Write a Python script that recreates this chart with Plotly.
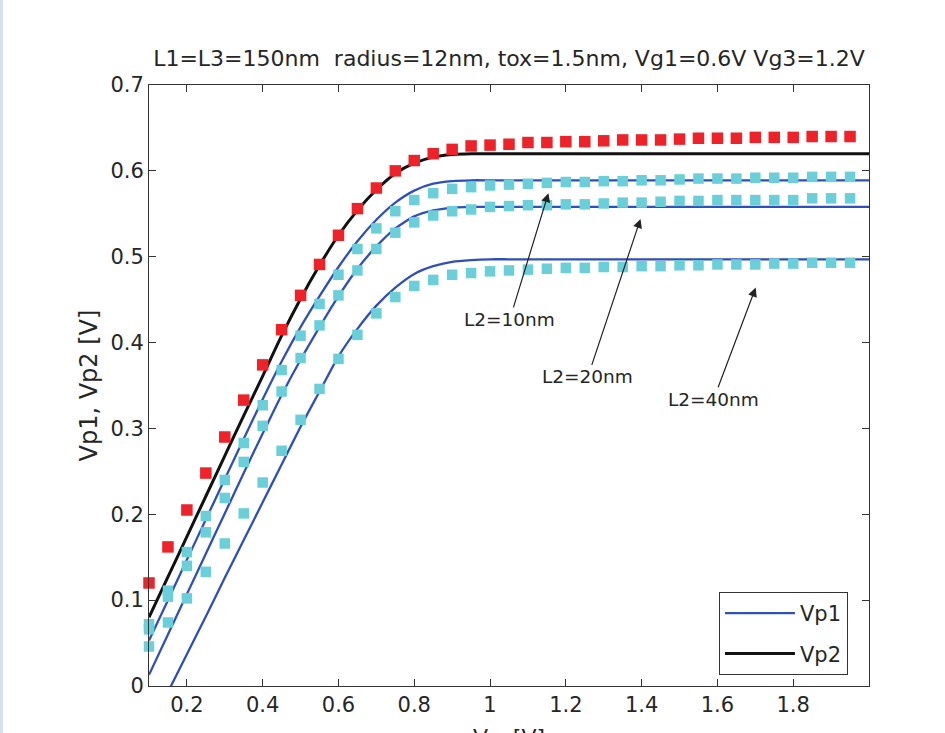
import plotly.graph_objects as go

# ---------------- data ----------------
x_line = [0.10, 0.15, 0.20, 0.25, 0.30, 0.35, 0.40, 0.45, 0.50, 0.55, 0.60, 0.65, 0.70,
          0.75, 0.80, 0.85, 0.90, 0.95, 1.00, 1.05, 1.10, 1.15, 1.20, 1.25, 1.30, 1.35,
          1.40, 1.45, 1.50, 1.55, 1.60, 1.65, 1.70, 1.75, 1.80, 1.85, 1.90, 1.95, 2.00]

vp2_line = [0.080, 0.127, 0.174, 0.221, 0.268, 0.315, 0.361, 0.408, 0.451, 0.490, 0.525,
            0.554, 0.578, 0.597, 0.609, 0.616, 0.619, 0.620, 0.620, 0.620, 0.620, 0.620,
            0.620, 0.620, 0.620, 0.620, 0.620, 0.620, 0.620, 0.620, 0.620, 0.620, 0.620,
            0.620, 0.620, 0.620, 0.620, 0.620, 0.620]

vp1_l10_line = [0.053, 0.100, 0.147, 0.194, 0.241, 0.288, 0.334, 0.378, 0.418, 0.454, 0.488,
                0.518, 0.543, 0.563, 0.577, 0.585, 0.588, 0.589, 0.589, 0.589, 0.589, 0.589,
                0.589, 0.589, 0.589, 0.589, 0.589, 0.589, 0.589, 0.589, 0.589, 0.589, 0.589,
                0.589, 0.589, 0.589, 0.589, 0.589, 0.589]

vp1_l20_line = [0.013, 0.060, 0.107, 0.154, 0.201, 0.248, 0.294, 0.339, 0.380, 0.418, 0.454,
                0.486, 0.512, 0.533, 0.547, 0.554, 0.557, 0.558, 0.558, 0.558, 0.558, 0.558,
                0.558, 0.558, 0.558, 0.558, 0.558, 0.558, 0.558, 0.558, 0.558, 0.558, 0.558,
                0.558, 0.558, 0.558, 0.558, 0.558, 0.558]

x_line_l40 = x_line[1:]
vp1_l40_line = [-0.007, 0.037, 0.081, 0.126, 0.170, 0.214, 0.258, 0.302, 0.343, 0.384,
                0.416, 0.443, 0.464, 0.480, 0.489, 0.494, 0.496, 0.497, 0.497, 0.497, 0.497,
                0.497, 0.497, 0.497, 0.497, 0.497, 0.497, 0.497, 0.497, 0.497, 0.497, 0.497,
                0.497, 0.497, 0.497, 0.497, 0.497, 0.497]

x_pts = x_line[:-1]

vp2_pts = [0.120, 0.162, 0.205, 0.248, 0.290, 0.333, 0.374, 0.415, 0.455, 0.491, 0.525,
           0.556, 0.580, 0.600, 0.612, 0.620, 0.625, 0.629, 0.630, 0.631, 0.633, 0.633,
           0.634, 0.634, 0.635, 0.636, 0.636, 0.636, 0.637, 0.638, 0.638, 0.638, 0.639,
           0.639, 0.639, 0.640, 0.640, 0.640]

vp1_l10_pts = [0.072, 0.111, 0.156, 0.198, 0.240, 0.283, 0.327, 0.368, 0.408, 0.445, 0.479,
               0.509, 0.533, 0.553, 0.566, 0.574, 0.579, 0.581, 0.583, 0.584, 0.585, 0.586,
               0.587, 0.587, 0.588, 0.588, 0.589, 0.589, 0.590, 0.591, 0.591, 0.591, 0.592,
               0.592, 0.592, 0.593, 0.593, 0.593]

vp1_l20_pts = [0.066, 0.104, 0.140, 0.179, 0.219, 0.261, 0.303, 0.343, 0.382, 0.420, 0.455,
               0.484, 0.509, 0.528, 0.540, 0.548, 0.553, 0.555, 0.558, 0.559, 0.560, 0.560,
               0.561, 0.561, 0.562, 0.563, 0.563, 0.564, 0.565, 0.565, 0.566, 0.566, 0.566,
               0.566, 0.566, 0.568, 0.568, 0.568]

vp1_l40_pts = [0.046, 0.074, 0.102, 0.133, 0.166, 0.201, 0.237, 0.274, 0.310, 0.346, 0.381,
               0.409, 0.434, 0.453, 0.466, 0.473, 0.479, 0.481, 0.483, 0.484, 0.485, 0.486,
               0.487, 0.487, 0.488, 0.488, 0.489, 0.489, 0.490, 0.490, 0.491, 0.491, 0.491,
               0.492, 0.492, 0.493, 0.493, 0.493]

x_ticks = [0.2, 0.4, 0.6, 0.8, 1.0, 1.2, 1.4, 1.6, 1.8]
x_ticktext = ["0.2", "0.4", "0.6", "0.8", "1", "1.2", "1.4", "1.6", "1.8"]
y_ticks = [0, 0.1, 0.2, 0.3, 0.4, 0.5, 0.6, 0.7]
y_ticktext = ["0", "0.1", "0.2", "0.3", "0.4", "0.5", "0.6", "0.7"]

labels = ["L2=10nm", "L2=20nm", "L2=40nm"]
label_tip_x = [1.154, 1.397, 1.701]
label_tip_y = [0.574, 0.544, 0.464]
label_txt_x = [1.052, 1.258, 1.590]
label_txt_y = [0.427, 0.360, 0.334]

title_text = "L1=L3=150nm  radius=12nm, tox=1.5nm, Vg1=0.6V Vg3=1.2V"

# ---------------- style ----------------
FONT = "DejaVu Sans"
TXT = "#262626"
BLUE = "#2f4fbb"
BLACK = "#111111"
RED = "#ee2229"
CYAN = "#6acfd8"

fig = go.Figure()

blue_lines = [(x_line, vp1_l10_line), (x_line, vp1_l20_line), (x_line_l40, vp1_l40_line)]
for i, (xs, ys) in enumerate(blue_lines):
    fig.add_trace(go.Scatter(x=xs, y=ys, mode="lines", name="Vp1",
                             line=dict(color=BLUE, width=2.3, shape="spline", smoothing=0.6),
                             legendgroup="vp1", showlegend=(i == 0)))
fig.add_trace(go.Scatter(x=x_line, y=vp2_line, mode="lines", name="Vp2",
                         line=dict(color=BLACK, width=3, shape="spline", smoothing=0.6),
                         showlegend=True))

for ys in [vp1_l10_pts, vp1_l20_pts, vp1_l40_pts]:
    fig.add_trace(go.Scatter(x=x_pts, y=ys, mode="markers", showlegend=False,
                             cliponaxis=False,
                             marker=dict(symbol="square", size=10.5, color=CYAN,
                                         line=dict(width=0))))
fig.add_trace(go.Scatter(x=x_pts, y=vp2_pts, mode="markers", showlegend=False,
                         cliponaxis=False,
                         marker=dict(symbol="square", size=11.5, color=RED,
                                     line=dict(width=0))))

annotations = []
for t, tx, ty, ax, ay in zip(labels, label_tip_x, label_tip_y, label_txt_x, label_txt_y):
    annotations.append(dict(x=tx, y=ty, xref="x", yref="y", ax=ax, ay=ay, axref="x", ayref="y",
                            text=t, showarrow=True, arrowhead=2, arrowsize=1.5,
                            arrowwidth=1.2, arrowcolor="#222222",
                            font=dict(family=FONT, size=18.5, color=TXT)))
# y-axis title
annotations.append(dict(x=-0.0847, y=0.5, xref="paper", yref="paper", text="Vp1, Vp2 [V]",
                        textangle=-90, showarrow=False, xanchor="center", yanchor="middle",
                        font=dict(family=FONT, size=24, color=TXT)))
# x-axis title (partly cut off by the page edge as in the reference)
annotations.append(dict(x=0.5, y=-0.062, xref="paper", yref="paper",
                        text="V<sub>ds</sub> [V]", showarrow=False,
                        xanchor="center", yanchor="top",
                        font=dict(family=FONT, size=22, color=TXT)))

axis_common = dict(showline=True, linecolor="#333333", linewidth=1, mirror="ticks",
                   ticks="inside", ticklen=7, tickwidth=1, tickcolor="#333333",
                   showgrid=False, zeroline=False,
                   tickfont=dict(family=FONT, size=21, color=TXT))

fig.update_layout(
    width=945, height=733,
    margin=dict(l=149, r=76, t=85, b=47),
    paper_bgcolor="white", plot_bgcolor="white",
    title=dict(text=title_text, x=0.5, xref="paper", y=1 - 58 / 733, yref="container",
               xanchor="center", yanchor="middle",
               font=dict(family=FONT, size=22, color=TXT)),
    xaxis=dict(range=[0.1, 2.0], tickvals=x_ticks, ticktext=x_ticktext, **axis_common),
    yaxis=dict(range=[0, 0.7], tickvals=y_ticks, ticktext=y_ticktext, **axis_common),
    legend=dict(x=0.9708, y=0.0183, xanchor="right", yanchor="bottom",
                bgcolor="white", bordercolor="#333333", borderwidth=1,
                itemwidth=70,
                font=dict(family=FONT, size=21, color=TXT)),
    annotations=annotations,
    shapes=[dict(type="line", xref="paper", yref="paper", x0=-0.2049, x1=-0.2049,
                 y0=-0.08, y1=1.15, line=dict(color="#d6e0f2", width=3))],
    showlegend=True,
)

fig.write_html("out.html")
